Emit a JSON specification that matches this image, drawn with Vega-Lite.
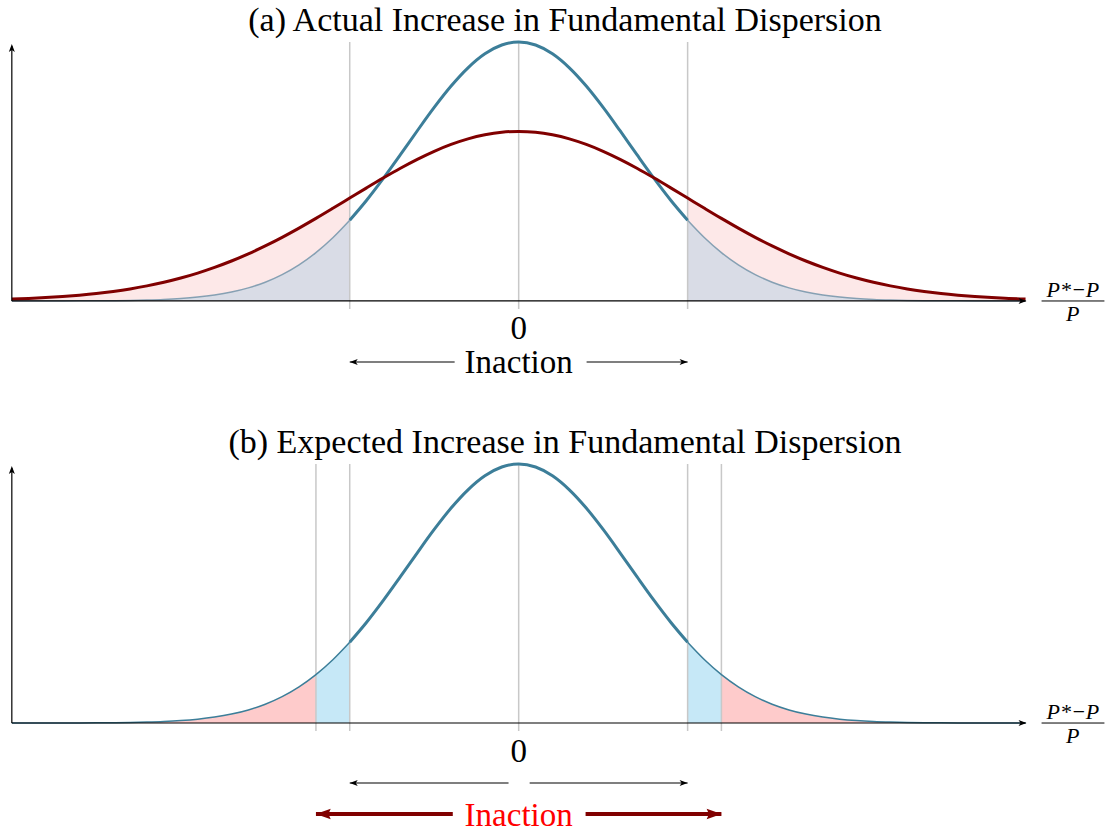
{
  "$schema": "https://vega.github.io/schema/vega-lite/v6.json",
  "padding": {"left": 0, "top": 4, "right": 0, "bottom": 0},
  "spacing": 40,
  "config": {
    "view": {"stroke": null},
    "text": {"font": "Liberation Serif"},
    "title": {"font": "Liberation Serif", "fontSize": 34, "fontWeight": "normal", "color": "#000000", "anchor": "middle", "baseline": "alphabetic"}
  },
  "datasets": {
    "dist": [
      {"x": -3.0, "blue": 0.00002, "red": 0.0044},
      {"x": -2.9, "blue": 0.00003, "red": 0.0060},
      {"x": -2.8, "blue": 0.00007, "red": 0.0079},
      {"x": -2.7, "blue": 0.00012, "red": 0.0104},
      {"x": -2.6, "blue": 0.00023, "red": 0.0136},
      {"x": -2.5, "blue": 0.00042, "red": 0.0175},
      {"x": -2.4, "blue": 0.00074, "red": 0.0224},
      {"x": -2.3, "blue": 0.0013, "red": 0.0283},
      {"x": -2.2, "blue": 0.0022, "red": 0.0355},
      {"x": -2.1, "blue": 0.0036, "red": 0.0440},
      {"x": -2.0, "blue": 0.0058, "red": 0.0540},
      {"x": -1.9, "blue": 0.0091, "red": 0.0656},
      {"x": -1.8, "blue": 0.0140, "red": 0.0790},
      {"x": -1.7, "blue": 0.0210, "red": 0.0940},
      {"x": -1.6, "blue": 0.0308, "red": 0.1109},
      {"x": -1.5, "blue": 0.0442, "red": 0.1295},
      {"x": -1.4, "blue": 0.0620, "red": 0.1497},
      {"x": -1.3, "blue": 0.0850, "red": 0.1714},
      {"x": -1.2, "blue": 0.1137, "red": 0.1942},
      {"x": -1.1, "blue": 0.1487, "red": 0.2179},
      {"x": -1.0, "blue": 0.1899, "red": 0.2420},
      {"x": -0.9, "blue": 0.2370, "red": 0.2661},
      {"x": -0.8, "blue": 0.2889, "red": 0.2897},
      {"x": -0.7, "blue": 0.3441, "red": 0.3123},
      {"x": -0.6, "blue": 0.4004, "red": 0.3332},
      {"x": -0.5, "blue": 0.4552, "red": 0.3521},
      {"x": -0.4, "blue": 0.5055, "red": 0.3683},
      {"x": -0.3, "blue": 0.5484, "red": 0.3814},
      {"x": -0.2, "blue": 0.5814, "red": 0.3910},
      {"x": -0.1, "blue": 0.6020, "red": 0.3970},
      {"x": 0.0, "blue": 0.6091, "red": 0.3989},
      {"x": 0.1, "blue": 0.6020, "red": 0.3970},
      {"x": 0.2, "blue": 0.5814, "red": 0.3910},
      {"x": 0.3, "blue": 0.5484, "red": 0.3814},
      {"x": 0.4, "blue": 0.5055, "red": 0.3683},
      {"x": 0.5, "blue": 0.4552, "red": 0.3521},
      {"x": 0.6, "blue": 0.4004, "red": 0.3332},
      {"x": 0.7, "blue": 0.3441, "red": 0.3123},
      {"x": 0.8, "blue": 0.2889, "red": 0.2897},
      {"x": 0.9, "blue": 0.2370, "red": 0.2661},
      {"x": 1.0, "blue": 0.1899, "red": 0.2420},
      {"x": 1.1, "blue": 0.1487, "red": 0.2179},
      {"x": 1.2, "blue": 0.1137, "red": 0.1942},
      {"x": 1.3, "blue": 0.0850, "red": 0.1714},
      {"x": 1.4, "blue": 0.0620, "red": 0.1497},
      {"x": 1.5, "blue": 0.0442, "red": 0.1295},
      {"x": 1.6, "blue": 0.0308, "red": 0.1109},
      {"x": 1.7, "blue": 0.0210, "red": 0.0940},
      {"x": 1.8, "blue": 0.0140, "red": 0.0790},
      {"x": 1.9, "blue": 0.0091, "red": 0.0656},
      {"x": 2.0, "blue": 0.0058, "red": 0.0540},
      {"x": 2.1, "blue": 0.0036, "red": 0.0440},
      {"x": 2.2, "blue": 0.0022, "red": 0.0355},
      {"x": 2.3, "blue": 0.0013, "red": 0.0283},
      {"x": 2.4, "blue": 0.00074, "red": 0.0224},
      {"x": 2.5, "blue": 0.00042, "red": 0.0175},
      {"x": 2.6, "blue": 0.00023, "red": 0.0136},
      {"x": 2.7, "blue": 0.00012, "red": 0.0104},
      {"x": 2.8, "blue": 0.00007, "red": 0.0079},
      {"x": 2.9, "blue": 0.00003, "red": 0.0060},
      {"x": 3.0, "blue": 0.00002, "red": 0.0044}
    ]
  },
  "vconcat": [
    {
      "width": 1110,
      "height": 345,
      "title": {"text": "(a) Actual Increase in Fundamental Dispersion", "dx": 10, "offset": -2},
      "data": {"name": "dist"},
      "layer": [
        {
          "transform": [{"filter": {"field": "x", "range": [-3, -1]}}],
          "mark": {"type": "area", "color": "#d9dce6", "interpolate": "monotone"},
          "encoding": {
            "x": {"field": "x", "type": "quantitative", "scale": {"domain": [-3.07, 3.5], "nice": false, "zero": false}, "axis": null},
            "y": {"field": "blue", "type": "quantitative", "scale": {"domain": [-0.2, 0.6115], "nice": false, "zero": false}, "axis": null},
            "y2": {"datum": 0}
          }
        },
        {
          "transform": [{"filter": {"field": "x", "range": [1, 3]}}],
          "mark": {"type": "area", "color": "#d9dce6", "interpolate": "monotone"},
          "encoding": {
            "x": {"field": "x", "type": "quantitative"},
            "y": {"field": "blue", "type": "quantitative"},
            "y2": {"datum": 0}
          }
        },
        {
          "transform": [{"filter": {"field": "x", "range": [-3, -1]}}],
          "mark": {"type": "area", "color": "#fde8e8", "interpolate": "monotone"},
          "encoding": {
            "x": {"field": "x", "type": "quantitative"},
            "y": {"field": "red", "type": "quantitative"},
            "y2": {"field": "blue"}
          }
        },
        {
          "transform": [{"filter": {"field": "x", "range": [1, 3]}}],
          "mark": {"type": "area", "color": "#fde8e8", "interpolate": "monotone"},
          "encoding": {
            "x": {"field": "x", "type": "quantitative"},
            "y": {"field": "red", "type": "quantitative"},
            "y2": {"field": "blue"}
          }
        },
        {
          "data": {"values": [{"x": -1}, {"x": 0}, {"x": 1}]},
          "mark": {"type": "rule", "color": "#c8c8c8", "strokeWidth": 1.5},
          "encoding": {
            "x": {"field": "x", "type": "quantitative"},
            "y": {"datum": -0.019},
            "y2": {"datum": 0.6091}
          }
        },
        {
          "transform": [{"filter": {"field": "x", "range": [-3, -1]}}],
          "mark": {"type": "line", "color": "#86a0b3", "strokeWidth": 1.5, "interpolate": "monotone"},
          "encoding": {
            "x": {"field": "x", "type": "quantitative"},
            "y": {"field": "blue", "type": "quantitative"}
          }
        },
        {
          "transform": [{"filter": {"field": "x", "range": [1, 3]}}],
          "mark": {"type": "line", "color": "#86a0b3", "strokeWidth": 1.5, "interpolate": "monotone"},
          "encoding": {
            "x": {"field": "x", "type": "quantitative"},
            "y": {"field": "blue", "type": "quantitative"}
          }
        },
        {
          "transform": [{"filter": {"field": "x", "range": [-1, 1]}}],
          "mark": {"type": "line", "color": "#3c7e99", "strokeWidth": 3, "interpolate": "monotone"},
          "encoding": {
            "x": {"field": "x", "type": "quantitative"},
            "y": {"field": "blue", "type": "quantitative"}
          }
        },
        {
          "mark": {"type": "line", "color": "#800000", "strokeWidth": 3, "interpolate": "monotone"},
          "encoding": {
            "x": {"field": "x", "type": "quantitative"},
            "y": {"field": "red", "type": "quantitative"}
          }
        },
        {
          "data": {"values": [{"x": -3, "x2": 3.0, "y": 0}]},
          "mark": {"type": "rule", "color": "#000000", "strokeWidth": 1.2},
          "encoding": {
            "x": {"field": "x", "type": "quantitative"},
            "x2": {"field": "x2"},
            "y": {"field": "y", "type": "quantitative"}
          }
        },
        {
          "data": {"values": [{"x": -3, "y": 0, "y2": 0.6}]},
          "mark": {"type": "rule", "color": "#000000", "strokeWidth": 1.2},
          "encoding": {
            "x": {"field": "x", "type": "quantitative"},
            "y": {"field": "y", "type": "quantitative"},
            "y2": {"field": "y2"}
          }
        },
        {
          "data": {"values": [{"x": -1, "x2": -0.379, "y": -0.1435}, {"x": 0.402, "x2": 1, "y": -0.1435}]},
          "mark": {"type": "rule", "color": "#000000", "strokeWidth": 1.2},
          "encoding": {
            "x": {"field": "x", "type": "quantitative"},
            "x2": {"field": "x2"},
            "y": {"field": "y", "type": "quantitative"}
          }
        },
        {
          "data": {"values": [{"x": 3.006, "y": 0}, {"x": 1, "y": -0.1435}]},
          "mark": {"type": "point", "shape": "M0,0 L-1.6,-0.6 L-1.2,0 L-1.6,0.6 Z", "filled": true, "color": "#000000", "size": 100, "opacity": 1},
          "encoding": {
            "x": {"field": "x", "type": "quantitative"},
            "y": {"field": "y", "type": "quantitative"}
          }
        },
        {
          "data": {"values": [{"x": -1, "y": -0.1435}]},
          "mark": {"type": "point", "shape": "M0,0 L1.6,-0.6 L1.2,0 L1.6,0.6 Z", "filled": true, "color": "#000000", "size": 100, "opacity": 1},
          "encoding": {
            "x": {"field": "x", "type": "quantitative"},
            "y": {"field": "y", "type": "quantitative"}
          }
        },
        {
          "data": {"values": [{"x": -3, "y": 0.6044}]},
          "mark": {"type": "point", "shape": "M0,0 L-0.6,1.6 L0,1.2 L0.6,1.6 Z", "filled": true, "color": "#000000", "size": 100, "opacity": 1},
          "encoding": {
            "x": {"field": "x", "type": "quantitative"},
            "y": {"field": "y", "type": "quantitative"}
          }
        },
        {
          "data": {"values": [{"x": 0, "y": -0.0894, "t": "0"}, {"x": 0, "y": -0.1693, "t": "Inaction"}]},
          "mark": {"type": "text", "font": "Liberation Serif", "fontSize": 33, "baseline": "alphabetic", "align": "center", "color": "#000000"},
          "encoding": {
            "x": {"field": "x", "type": "quantitative"},
            "y": {"field": "y", "type": "quantitative"},
            "text": {"field": "t"}
          }
        },
        {
          "data": {"values": [{"x": 3.28, "y": 0.0094, "t": "P*−P"}, {"x": 3.28, "y": -0.047, "t": "P"}]},
          "mark": {"type": "text", "font": "Liberation Serif", "fontSize": 22, "fontStyle": "italic", "baseline": "alphabetic", "align": "center", "color": "#000000"},
          "encoding": {
            "x": {"field": "x", "type": "quantitative"},
            "y": {"field": "y", "type": "quantitative"},
            "text": {"field": "t"}
          }
        },
        {
          "data": {"values": [{"x": 3.095, "x2": 3.467, "y": 0}]},
          "mark": {"type": "rule", "color": "#000000", "strokeWidth": 1},
          "encoding": {
            "x": {"field": "x", "type": "quantitative"},
            "x2": {"field": "x2"},
            "y": {"field": "y", "type": "quantitative"}
          }
        }
      ]
    },
    {
      "width": 1110,
      "height": 369,
      "title": {"text": "(b) Expected Increase in Fundamental Dispersion", "dx": 10, "offset": -2},
      "data": {"name": "dist"},
      "layer": [
        {
          "transform": [{"filter": {"field": "x", "range": [-3, -1.2]}}],
          "mark": {"type": "area", "color": "#fecbcb", "interpolate": "monotone"},
          "encoding": {
            "x": {"field": "x", "type": "quantitative", "scale": {"domain": [-3.07, 3.5], "nice": false, "zero": false}, "axis": null},
            "y": {"field": "blue", "type": "quantitative", "scale": {"domain": [-0.2563, 0.6115], "nice": false, "zero": false}, "axis": null},
            "y2": {"datum": 0}
          }
        },
        {
          "transform": [{"filter": {"field": "x", "range": [1.2, 3]}}],
          "mark": {"type": "area", "color": "#fecbcb", "interpolate": "monotone"},
          "encoding": {
            "x": {"field": "x", "type": "quantitative"},
            "y": {"field": "blue", "type": "quantitative"},
            "y2": {"datum": 0}
          }
        },
        {
          "transform": [{"filter": {"field": "x", "range": [-1.2, -1]}}],
          "mark": {"type": "area", "color": "#c6e8f7", "interpolate": "monotone"},
          "encoding": {
            "x": {"field": "x", "type": "quantitative"},
            "y": {"field": "blue", "type": "quantitative"},
            "y2": {"datum": 0}
          }
        },
        {
          "transform": [{"filter": {"field": "x", "range": [1, 1.2]}}],
          "mark": {"type": "area", "color": "#c6e8f7", "interpolate": "monotone"},
          "encoding": {
            "x": {"field": "x", "type": "quantitative"},
            "y": {"field": "blue", "type": "quantitative"},
            "y2": {"datum": 0}
          }
        },
        {
          "data": {"values": [{"x": -1.2}, {"x": -1}, {"x": 0}, {"x": 1}, {"x": 1.2}]},
          "mark": {"type": "rule", "color": "#c8c8c8", "strokeWidth": 1.5},
          "encoding": {
            "x": {"field": "x", "type": "quantitative"},
            "y": {"datum": -0.019},
            "y2": {"datum": 0.6091}
          }
        },
        {
          "transform": [{"filter": {"field": "x", "range": [-3, -1]}}],
          "mark": {"type": "line", "color": "#3c7e99", "strokeWidth": 1.5, "interpolate": "monotone"},
          "encoding": {
            "x": {"field": "x", "type": "quantitative"},
            "y": {"field": "blue", "type": "quantitative"}
          }
        },
        {
          "transform": [{"filter": {"field": "x", "range": [1, 3]}}],
          "mark": {"type": "line", "color": "#3c7e99", "strokeWidth": 1.5, "interpolate": "monotone"},
          "encoding": {
            "x": {"field": "x", "type": "quantitative"},
            "y": {"field": "blue", "type": "quantitative"}
          }
        },
        {
          "transform": [{"filter": {"field": "x", "range": [-1, 1]}}],
          "mark": {"type": "line", "color": "#3c7e99", "strokeWidth": 3, "interpolate": "monotone"},
          "encoding": {
            "x": {"field": "x", "type": "quantitative"},
            "y": {"field": "blue", "type": "quantitative"}
          }
        },
        {
          "data": {"values": [{"x": -3, "x2": 3.0, "y": 0}]},
          "mark": {"type": "rule", "color": "#000000", "strokeWidth": 1.2},
          "encoding": {
            "x": {"field": "x", "type": "quantitative"},
            "x2": {"field": "x2"},
            "y": {"field": "y", "type": "quantitative"}
          }
        },
        {
          "data": {"values": [{"x": -3, "y": 0, "y2": 0.6}]},
          "mark": {"type": "rule", "color": "#000000", "strokeWidth": 1.2},
          "encoding": {
            "x": {"field": "x", "type": "quantitative"},
            "y": {"field": "y", "type": "quantitative"},
            "y2": {"field": "y2"}
          }
        },
        {
          "data": {"values": [{"x": -1, "x2": -0.06, "y": -0.1411}, {"x": 0.065, "x2": 1, "y": -0.1411}]},
          "mark": {"type": "rule", "color": "#000000", "strokeWidth": 1.2},
          "encoding": {
            "x": {"field": "x", "type": "quantitative"},
            "x2": {"field": "x2"},
            "y": {"field": "y", "type": "quantitative"}
          }
        },
        {
          "data": {"values": [{"x": -1.2, "x2": -0.39, "y": -0.214}, {"x": 0.396, "x2": 1.2, "y": -0.214}]},
          "mark": {"type": "rule", "color": "#800000", "strokeWidth": 4},
          "encoding": {
            "x": {"field": "x", "type": "quantitative"},
            "x2": {"field": "x2"},
            "y": {"field": "y", "type": "quantitative"}
          }
        },
        {
          "data": {"values": [{"x": 3.006, "y": 0}, {"x": 1, "y": -0.1411}]},
          "mark": {"type": "point", "shape": "M0,0 L-1.6,-0.6 L-1.2,0 L-1.6,0.6 Z", "filled": true, "color": "#000000", "size": 100, "opacity": 1},
          "encoding": {
            "x": {"field": "x", "type": "quantitative"},
            "y": {"field": "y", "type": "quantitative"}
          }
        },
        {
          "data": {"values": [{"x": -1, "y": -0.1411}]},
          "mark": {"type": "point", "shape": "M0,0 L1.6,-0.6 L1.2,0 L1.6,0.6 Z", "filled": true, "color": "#000000", "size": 100, "opacity": 1},
          "encoding": {
            "x": {"field": "x", "type": "quantitative"},
            "y": {"field": "y", "type": "quantitative"}
          }
        },
        {
          "data": {"values": [{"x": 1.201, "y": -0.214}]},
          "mark": {"type": "point", "shape": "M0,0 L-1.6,-0.55 L-1.35,0 L-1.6,0.55 Z", "filled": true, "color": "#800000", "size": 350, "opacity": 1},
          "encoding": {
            "x": {"field": "x", "type": "quantitative"},
            "y": {"field": "y", "type": "quantitative"}
          }
        },
        {
          "data": {"values": [{"x": -1.201, "y": -0.214}]},
          "mark": {"type": "point", "shape": "M0,0 L1.6,-0.55 L1.35,0 L1.6,0.55 Z", "filled": true, "color": "#800000", "size": 350, "opacity": 1},
          "encoding": {
            "x": {"field": "x", "type": "quantitative"},
            "y": {"field": "y", "type": "quantitative"}
          }
        },
        {
          "data": {"values": [{"x": -3, "y": 0.6044}]},
          "mark": {"type": "point", "shape": "M0,0 L-0.6,1.6 L0,1.2 L0.6,1.6 Z", "filled": true, "color": "#000000", "size": 100, "opacity": 1},
          "encoding": {
            "x": {"field": "x", "type": "quantitative"},
            "y": {"field": "y", "type": "quantitative"}
          }
        },
        {
          "data": {"values": [{"x": 0, "y": -0.0917, "t": "0"}]},
          "mark": {"type": "text", "font": "Liberation Serif", "fontSize": 33, "baseline": "alphabetic", "align": "center", "color": "#000000"},
          "encoding": {
            "x": {"field": "x", "type": "quantitative"},
            "y": {"field": "y", "type": "quantitative"},
            "text": {"field": "t"}
          }
        },
        {
          "data": {"values": [{"x": 0, "y": -0.2422, "t": "Inaction"}]},
          "mark": {"type": "text", "font": "Liberation Serif", "fontSize": 33, "baseline": "alphabetic", "align": "center", "color": "#ff0000"},
          "encoding": {
            "x": {"field": "x", "type": "quantitative"},
            "y": {"field": "y", "type": "quantitative"},
            "text": {"field": "t"}
          }
        },
        {
          "data": {"values": [{"x": 3.28, "y": 0.0094, "t": "P*−P"}, {"x": 3.28, "y": -0.047, "t": "P"}]},
          "mark": {"type": "text", "font": "Liberation Serif", "fontSize": 22, "fontStyle": "italic", "baseline": "alphabetic", "align": "center", "color": "#000000"},
          "encoding": {
            "x": {"field": "x", "type": "quantitative"},
            "y": {"field": "y", "type": "quantitative"},
            "text": {"field": "t"}
          }
        },
        {
          "data": {"values": [{"x": 3.095, "x2": 3.467, "y": 0}]},
          "mark": {"type": "rule", "color": "#000000", "strokeWidth": 1},
          "encoding": {
            "x": {"field": "x", "type": "quantitative"},
            "x2": {"field": "x2"},
            "y": {"field": "y", "type": "quantitative"}
          }
        }
      ]
    }
  ]
}
